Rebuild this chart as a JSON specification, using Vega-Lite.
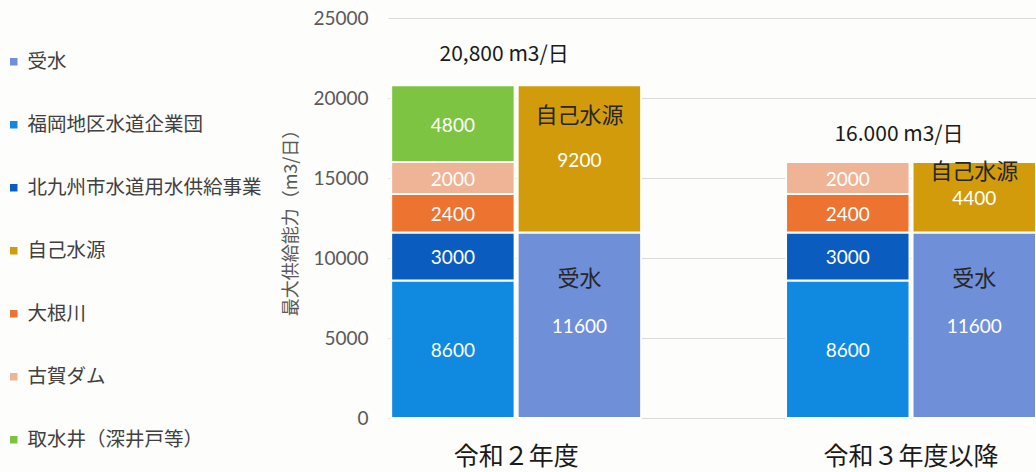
{
  "$schema": "https://vega.github.io/schema/vega-lite/v6.json",
  "width": 648,
  "height": 400,
  "autosize": {"type": "none"},
  "padding": {"left": 388, "top": 18, "right": 0, "bottom": 54},
  "background": "#fdfdfb",
  "config": {"view": {"stroke": null}, "font": "Noto Sans CJK JP"},
  "datasets": {
    "segments": [
      {"year": "令和２年度", "side": "left", "source": "福岡地区水道企業団", "value": 8600, "order": 1},
      {"year": "令和２年度", "side": "left", "source": "北九州市水道用水供給事業", "value": 3000, "order": 2},
      {"year": "令和２年度", "side": "left", "source": "大根川", "value": 2400, "order": 3},
      {"year": "令和２年度", "side": "left", "source": "古賀ダム", "value": 2000, "order": 4},
      {"year": "令和２年度", "side": "left", "source": "取水井（深井戸等）", "value": 4800, "order": 5},
      {"year": "令和２年度", "side": "right", "source": "受水", "value": 11600, "order": 1},
      {"year": "令和２年度", "side": "right", "source": "自己水源", "value": 9200, "order": 2},
      {"year": "令和３年度以降", "side": "left", "source": "福岡地区水道企業団", "value": 8600, "order": 1},
      {"year": "令和３年度以降", "side": "left", "source": "北九州市水道用水供給事業", "value": 3000, "order": 2},
      {"year": "令和３年度以降", "side": "left", "source": "大根川", "value": 2400, "order": 3},
      {"year": "令和３年度以降", "side": "left", "source": "古賀ダム", "value": 2000, "order": 4},
      {"year": "令和３年度以降", "side": "right", "source": "受水", "value": 11600, "order": 1},
      {"year": "令和３年度以降", "side": "right", "source": "自己水源", "value": 4400, "order": 2}
    ],
    "names": [
      {"year": "令和２年度", "side": "right", "label": "受水", "y": 8700},
      {"year": "令和２年度", "side": "right", "label": "自己水源", "y": 18900},
      {"year": "令和３年度以降", "side": "right", "label": "受水", "y": 8700},
      {"year": "令和３年度以降", "side": "right", "label": "自己水源", "y": 15350}
    ],
    "totals": [
      {"year": "令和２年度", "label": "20,800 m3/日", "y": 22700},
      {"year": "令和３年度以降", "label": "16.000 m3/日", "y": 17700}
    ]
  },
  "layer": [
    {
      "data": {"name": "segments"},
      "transform": [
        {"stack": "value", "groupby": ["year", "side"], "sort": [{"field": "order"}], "as": ["v0", "v1"]}
      ],
      "mark": {"type": "bar", "stroke": "#fdfdfb", "strokeWidth": 2},
      "encoding": {
        "x": {
          "field": "year", "type": "nominal", "sort": null,
          "scale": {"paddingInner": 0.367, "paddingOuter": 0.004, "align": 1},
          "axis": {"title": null, "domain": false, "ticks": false, "labelAngle": 0, "labelFontSize": 25, "labelColor": "#1a1a1a", "labelPadding": 26, "grid": false}
        },
        "xOffset": {"field": "side", "type": "nominal", "sort": ["left", "right"], "scale": {"paddingInner": 0.024, "paddingOuter": 0}},
        "y": {
          "field": "v0", "type": "quantitative",
          "scale": {"domain": [0, 25000], "nice": false},
          "axis": {
            "title": "最大供給能力（m3/日）", "titleFontSize": 18, "titleColor": "#595959", "titleFontWeight": "normal", "titlePadding": 12,
            "values": [0, 5000, 10000, 15000, 20000, 25000], "format": "d",
            "domain": false, "ticks": false, "labelPadding": 20, "labelFont": "Lato", "labelFontSize": 19, "labelColor": "#595959",
            "grid": true, "gridColor": "#d9d9d9"
          }
        },
        "y2": {"field": "v1"},
        "color": {
          "field": "source", "type": "nominal",
          "scale": {
            "domain": ["受水", "福岡地区水道企業団", "北九州市水道用水供給事業", "自己水源", "大根川", "古賀ダム", "取水井（深井戸等）"],
            "range": ["#6f8fd9", "#0f8ae0", "#0b5cbf", "#d29b0c", "#ec7330", "#efb496", "#7dc442"]
          },
          "legend": {
            "orient": "none", "legendX": -384, "legendY": 34, "title": null,
            "symbolType": "square", "symbolSize": 56, "symbolStrokeWidth": 0,
            "labelFontSize": 19.5, "labelColor": "#404040", "labelOffset": 4, "rowPadding": 42, "labelLimit": 0
          }
        }
      }
    },
    {
      "data": {"name": "segments"},
      "transform": [
        {"stack": "value", "groupby": ["year", "side"], "sort": [{"field": "order"}], "as": ["v0", "v1"]},
        {"calculate": "(datum.v0 + datum.v1) / 2", "as": "mid"}
      ],
      "mark": {"type": "text", "fill": "#ffffff", "font": "Lato", "fontSize": 19, "baseline": "middle", "dy": 2},
      "encoding": {
        "x": {"field": "year", "type": "nominal", "sort": null},
        "xOffset": {"field": "side", "type": "nominal", "sort": ["left", "right"]},
        "y": {"field": "mid", "type": "quantitative"},
        "text": {"field": "value", "type": "quantitative", "format": "d"}
      }
    },
    {
      "data": {"name": "names"},
      "mark": {"type": "text", "fill": "#262626", "fontSize": 22, "baseline": "middle"},
      "encoding": {
        "x": {"field": "year", "type": "nominal", "sort": null},
        "xOffset": {"field": "side", "type": "nominal", "sort": ["left", "right"]},
        "y": {"field": "y", "type": "quantitative"},
        "text": {"field": "label", "type": "nominal"}
      }
    },
    {
      "data": {"name": "totals"},
      "mark": {"type": "text", "fill": "#1a1a1a", "font": "Noto Sans CJK JP", "fontSize": 21, "baseline": "middle", "dx": -12},
      "encoding": {
        "x": {"field": "year", "type": "nominal", "sort": null},
        "y": {"field": "y", "type": "quantitative"},
        "text": {"field": "label", "type": "nominal"}
      }
    }
  ]
}
